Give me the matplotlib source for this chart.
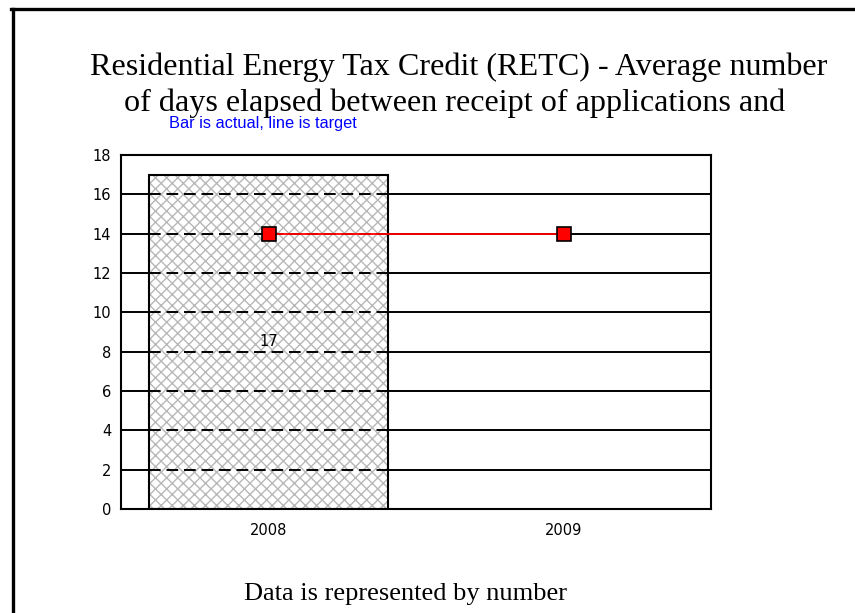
import matplotlib
matplotlib.use("Agg")
import matplotlib.pyplot as plt
from matplotlib.lines import Line2D

categories = ["2008", "2009"]
actual = [17, None]
target = [14, 14]
yticks = [0, 2, 4, 6, 8, 10, 12, 14, 16, 18]
title_lines = ["Residential Energy Tax Credit (RETC) - Average number",
               "of days elapsed between receipt of applications and"]
subtitle = "Bar is actual, line is target"
footer = "Data is represented by number"

fig = plt.figure(figsize=(8.55, 6.13), dpi=100)
ax = fig.add_axes([121/855, 1-509/613, 590/855, 354/613])

x = list(range(len(categories)))
bar_x = [i for i, v in zip(x, actual) if v is not None]
bar_v = [v for v in actual if v is not None]

# solid gridlines behind
for t in yticks:
    ax.axhline(t, color='black', lw=1.4, zorder=0.5)

# hatched fill (grey) then black outline
ax.bar(bar_x, bar_v, width=0.81, facecolor='white', edgecolor='#b8b8b8',
       hatch='xxx', lw=0, zorder=1)
bars = ax.bar(bar_x, bar_v, width=0.81, fill=False, edgecolor='black',
              lw=1.5, zorder=2)
for b in bars:
    x0 = b.get_x(); w = b.get_width(); h = b.get_height()
    for t in yticks:
        if 0 < t < h:
            ax.plot([x0, x0 + w], [t, t], color='black', lw=1.4,
                    dashes=(6, 3), zorder=1.5)
    ax.text(x0 + w/2, h/2, str(h), ha='center', va='center',
            fontsize=10.5, family='DejaVu Sans', zorder=3)

ax.plot(x, target, color='red', lw=1.3, marker='s', markersize=9.5,
        markerfacecolor='red', markeredgecolor='black', markeredgewidth=1.2, zorder=4)

ax.set_xlim(-0.5, 1.5)
ax.set_ylim(0, 18)
ax.set_yticks(yticks)
ax.set_xticks(x)
ax.set_xticklabels(categories)
ax.tick_params(length=0, labelsize=10.5)
ax.tick_params(axis='y', pad=7)
ax.tick_params(axis='x', pad=10)
for lab in ax.get_xticklabels() + ax.get_yticklabels():
    lab.set_family('DejaVu Sans')
for s in ax.spines.values():
    s.set_linewidth(1.5)
    s.set_zorder(5)

fig.text(459/855, 1-75/613, title_lines[0], ha='center', va='baseline', fontsize=23.1,
         family='Liberation Serif')
fig.text(455/855, 1-111/613, title_lines[1], ha='center', va='baseline', fontsize=23.1,
         family='Liberation Serif')
fig.text(263/855, 1-128/613, subtitle, ha='center', va='baseline', fontsize=11.8,
         color='#0000ff', family='Liberation Sans', zorder=5)
fig.text(405/855, 1-600/613, footer, ha='center', va='baseline', fontsize=19,
         family='Liberation Serif')

# outer frame
fig.add_artist(Line2D([12.5/855, 12.5/855], [0, 1-8.5/613], transform=fig.transFigure,
                      color='black', lw=2.4))
fig.add_artist(Line2D([11.3/855, 1], [1-8.5/613, 1-8.5/613], transform=fig.transFigure,
                      color='black', lw=2.4))

fig.savefig("out.png", dpi=100)
